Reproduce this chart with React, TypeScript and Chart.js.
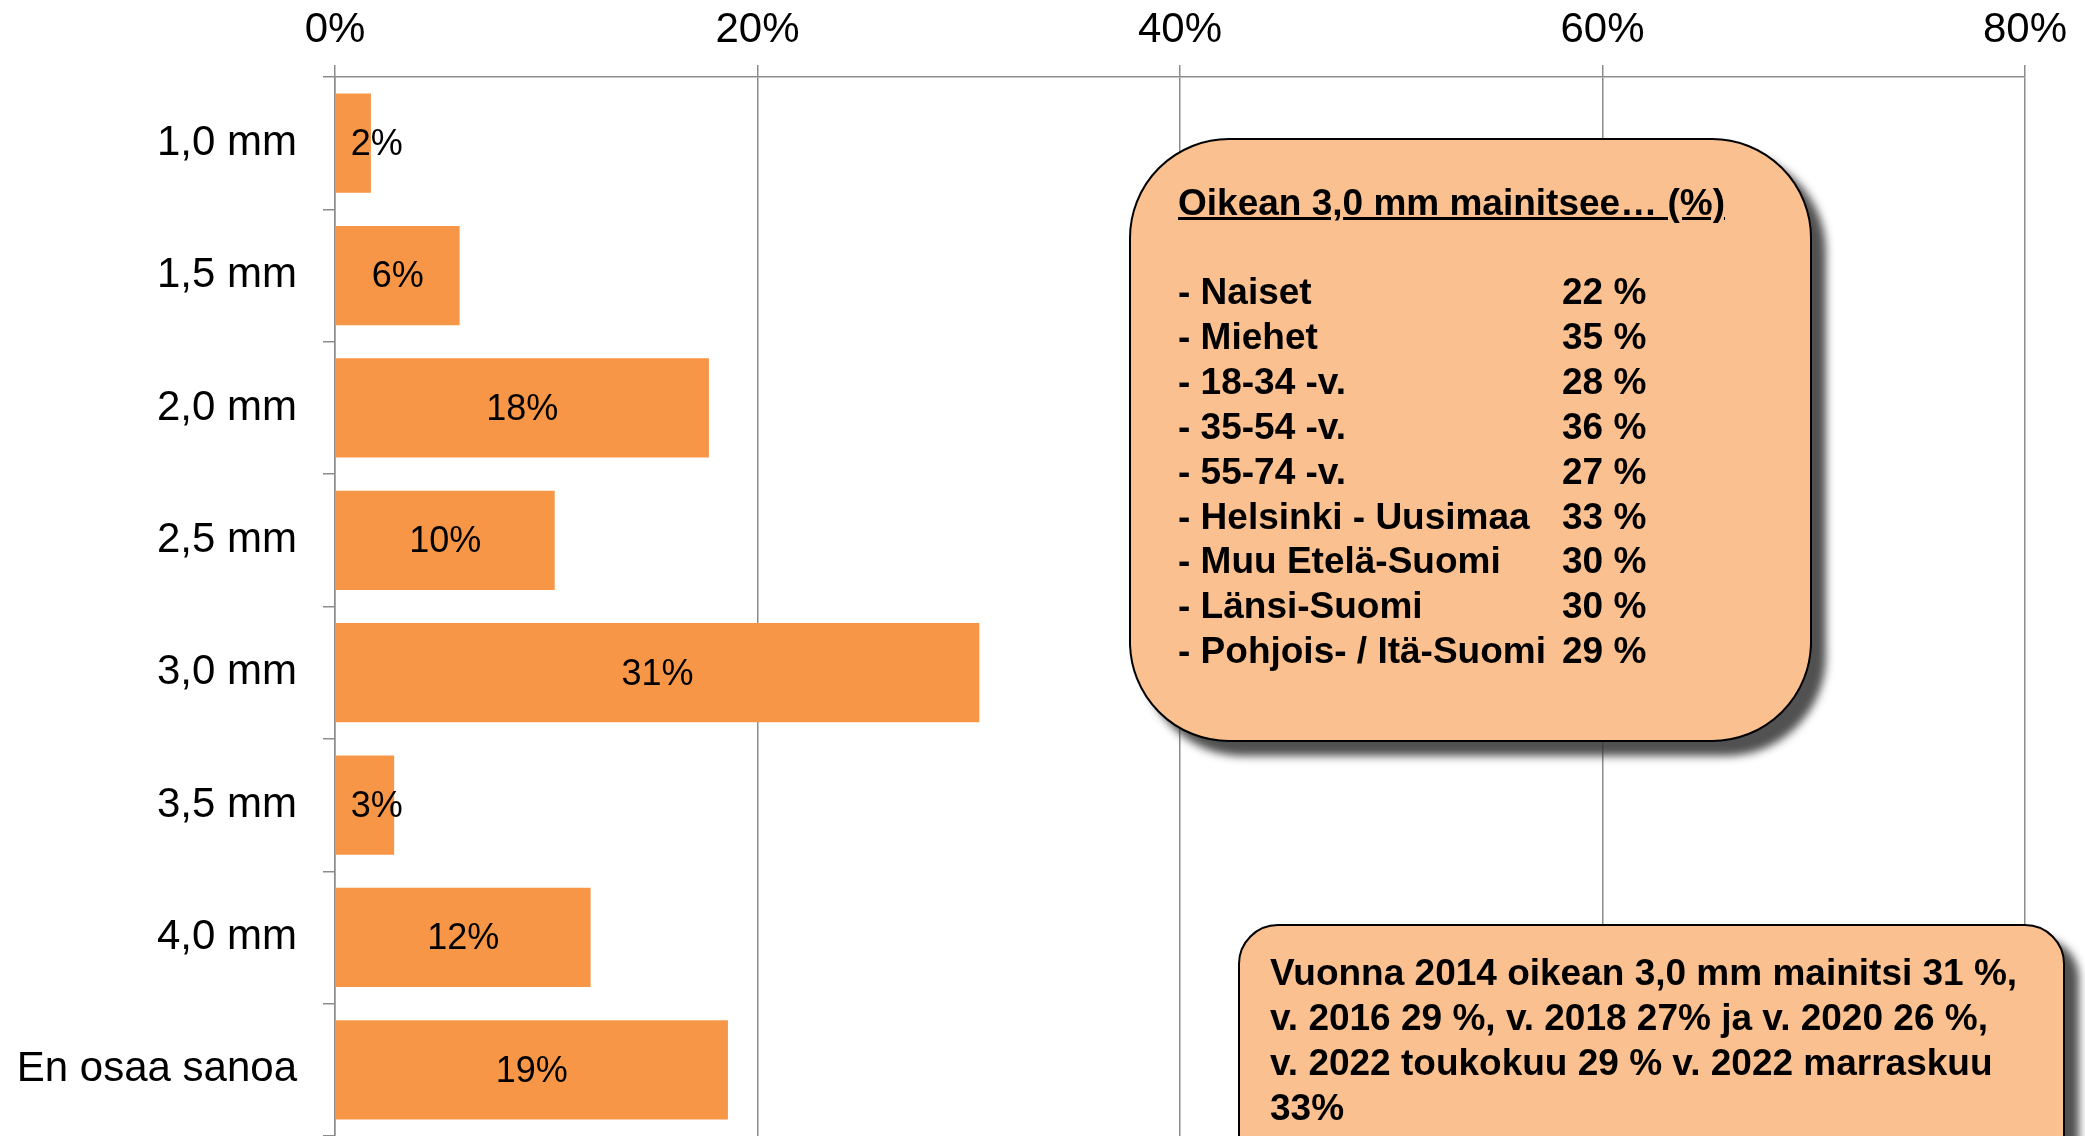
import React, { useEffect, useRef } from "react";
import { Chart, registerables } from "chart.js";

Chart.register(...registerables);

const categories = ["1,0 mm", "1,5 mm", "2,0 mm", "2,5 mm", "3,0 mm", "3,5 mm", "4,0 mm", "En osaa sanoa"];
const shares = [1.7, 5.9, 17.7, 10.4, 30.5, 2.8, 12.1, 18.6];
const shareLabels = ["2%", "6%", "18%", "10%", "31%", "3%", "12%", "19%"];
const axisMax = 80;
const axisStep = 20;

const boxTitle = "Oikean 3,0 mm mainitsee… (%)";
const groupNames = [
  "- Naiset",
  "- Miehet",
  "- 18-34 -v.",
  "- 35-54 -v.",
  "- 55-74 -v.",
  "- Helsinki - Uusimaa",
  "- Muu Etelä-Suomi",
  "- Länsi-Suomi",
  "- Pohjois- / Itä-Suomi",
];
const groupValues = ["22 %", "35 %", "28 %", "36 %", "27 %", "33 %", "30 %", "30 %", "29 %"];
const noteLines = [
  "Vuonna 2014 oikean 3,0 mm mainitsi 31 %,",
  "v. 2016 29 %, v. 2018 27% ja v. 2020 26 %,",
  "v. 2022 toukokuu 29 % v. 2022 marraskuu",
  "33%",
];

const FONT = "'Liberation Sans', Arial, sans-serif";
const GRID = "#8c8c8c";

const barLabelPlugin = {
  id: "barLabels",
  afterDatasetsDraw(chart: any) {
    const ctx = chart.ctx;
    const meta = chart.getDatasetMeta(0);
    ctx.save();
    ctx.font = `36px ${FONT}`;
    ctx.fillStyle = "#000";
    ctx.textAlign = "center";
    ctx.textBaseline = "middle";
    meta.data.forEach((el: any, i: number) => {
      const p = el.getProps(["x", "y", "base"], true);
      const txt = shareLabels[i];
      const w = ctx.measureText(txt).width;
      const cx = Math.max((p.x + p.base) / 2, p.base + 15 + w / 2);
      ctx.fillText(txt, cx, p.y + 2);
    });
    ctx.restore();
  },
};

export default function App() {
  const ref = useRef<HTMLCanvasElement>(null);

  useEffect(() => {
    if (!ref.current) return;
    const chart = new Chart(ref.current, {
      type: "bar",
      data: {
        labels: categories,
        datasets: [
          {
            data: shares,
            backgroundColor: "#F79646",
            borderWidth: 0,
            barPercentage: 0.75,
            categoryPercentage: 1,
          },
        ],
      },
      options: {
        indexAxis: "y",
        responsive: false,
        animation: false,
        devicePixelRatio: 1,
        layout: { padding: { left: 0, right: 60, top: 0, bottom: 0 } },
        plugins: { legend: { display: false }, tooltip: { enabled: false } },
        scales: {
          x: {
            position: "top",
            min: 0,
            max: axisMax,
            ticks: {
              stepSize: axisStep,
              color: "#000",
              font: { family: FONT, size: 42 },
              padding: 9,
              callback: (v: any) => `${v}%`,
            },
            grid: { color: GRID, lineWidth: 1.5, tickLength: 12, drawTicks: true },
            border: { color: GRID, width: 1.5 },
            afterFit: (s: any) => {
              s.height = 77;
            },
          },
          y: {
            ticks: {
              color: "#000",
              font: { family: FONT, size: 42 },
              padding: 26,
            },
            grid: { drawOnChartArea: false, color: GRID, lineWidth: 1.5, tickLength: 12 },
            border: { color: GRID, width: 1.5 },
            afterFit: (s: any) => {
              s.width = 335;
              s.paddingTop = 0;
              s.paddingBottom = 0;
            },
          },
        },
      },
      plugins: [barLabelPlugin],
    });
    return () => chart.destroy();
  }, []);

  const boxText: React.CSSProperties = {
    fontFamily: FONT,
    fontWeight: "bold",
    fontSize: 37,
    color: "#000",
    lineHeight: "45px",
    whiteSpace: "nowrap",
  };

  return (
    <div style={{ position: "absolute", left: 0, top: 0, width: 2085, height: 1136, overflow: "hidden", background: "#fff" }}>
      <canvas ref={ref} width={2085} height={1136} style={{ position: "absolute", left: 0, top: 0, width: 2085, height: 1136 }} />
      <div
        style={{
          position: "absolute",
          left: 1129,
          top: 138,
          width: 683,
          height: 604,
          boxSizing: "border-box",
          borderRadius: 100,
          background: "#FAC090",
          border: "2px solid #000",
          boxShadow: "14px 14px 8px rgba(50,50,50,0.85)",
        }}
      >
        <div style={{ ...boxText, position: "absolute", left: 47, top: 40, textDecoration: "underline" }}>{boxTitle}</div>
        {groupNames.map((g, i) => (
          <div key={g} style={{ position: "absolute", left: 47, top: 129 + i * 44.9, ...boxText }}>
            <span>{g}</span>
            <span style={{ position: "absolute", left: 384 }}>{groupValues[i]}</span>
          </div>
        ))}
      </div>
      <div
        style={{
          position: "absolute",
          left: 1238,
          top: 924,
          width: 827,
          height: 300,
          boxSizing: "border-box",
          borderRadius: 40,
          background: "#FAC090",
          border: "2px solid #000",
          boxShadow: "14px 14px 8px rgba(50,50,50,0.85)",
        }}
      >
        {noteLines.map((l, i) => (
          <div key={i} style={{ position: "absolute", left: 30, top: 24 + i * 45, ...boxText }}>
            {l}
          </div>
        ))}
      </div>
    </div>
  );
}
